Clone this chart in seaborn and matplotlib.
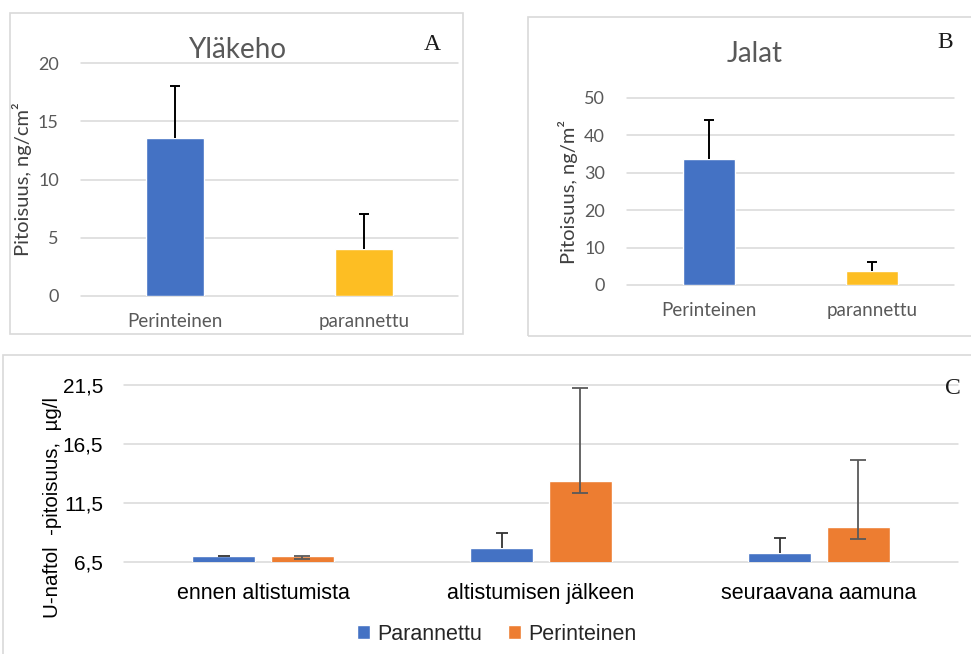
import matplotlib
matplotlib.use("Agg")
import matplotlib.pyplot as plt
from matplotlib.patches import Rectangle
import seaborn as sns
import pandas as pd

# ---- data -------------------------------------------------------------
groups_ab = ["Perinteinen", "parannettu"]

ylakeho_mean = [13.6, 4.0]
ylakeho_err_up = [4.4, 3.0]

jalat_mean = [33.7, 3.8]
jalat_err_up = [10.3, 2.3]

times = ["ennen altistumista", "altistumisen jälkeen", "seuraavana aamuna"]
series = ["Parannettu", "Perinteinen"]
parannettu_mean = [7.0, 7.7, 7.3]
parannettu_err_up = [0.05, 1.3, 1.2]
perinteinen_mean = [7.0, 13.4, 9.5]
perinteinen_err_low = [0.25, 1.05, 1.05]
perinteinen_err_up = [0.05, 7.85, 5.65]

ticks_a = [0, 5, 10, 15, 20]
ticks_b = [0, 10, 20, 30, 40, 50]
ticks_c = [6.5, 11.5, 16.5, 21.5]
ticklabels_c = ["6,5", "11,5", "16,5", "21,5"]

# ---- style ------------------------------------------------------------
sns.set_theme(style="white")
BLUE = "#4472C4"
ORANGE = "#ED7D31"
GOLD = "#FDBE23"
GRID = "#D9D9D9"
GREY_TXT = "#595959"
SANS_AB = ["Lato", "DejaVu Sans"]
SANS_C = ["Liberation Sans", "DejaVu Sans"]
SERIF = ["Liberation Serif", "DejaVu Serif"]

W, H = 971, 654
fig = plt.figure(figsize=(W / 100, H / 100), dpi=100)
fig.patch.set_facecolor("white")


def fx(x):
    return x / W


def fy(y):
    return 1 - y / H


def axes_px(left, top, right, bottom):
    ax = fig.add_axes([fx(left), fy(bottom), (right - left) / W, (bottom - top) / H])
    ax.width_px = right - left
    return ax


def frame_px(left, top, right, bottom):
    fig.add_artist(Rectangle((fx(left), fy(bottom)), (right - left) / W, (bottom - top) / H,
                             transform=fig.transFigure, fill=False,
                             edgecolor=GRID, linewidth=1.2, zorder=0))


def grid_lines(ax, ticks):
    for v in ticks:
        ax.axhline(v, color=GRID, linewidth=1.1, zorder=0.5, clip_on=False)


def clean(ax):
    for s in ax.spines.values():
        s.set_visible(False)
    ax.tick_params(length=0)
    ax.set_facecolor("none")


def upper_bars(ax, xs, means, ups, ncat, color, lw, cap_px):
    """Error bars drawn upward only, with a cap at the upper end."""
    hw = cap_px / (ax.width_px / ncat)
    tops = [m + u for m, u in zip(means, ups)]
    ax.vlines(xs, means, tops, color=color, linewidth=lw, zorder=3)
    ax.hlines(tops, [x - hw for x in xs], [x + hw for x in xs], color=color,
              linewidth=lw, zorder=3)


# ---- panel frames -----------------------------------------------------
frame_px(10, 13, 463, 334)
frame_px(528, 17, 985, 336)
frame_px(3, 355, 985, 665)


# ---- A / B : single-series bar charts --------------------------------
def small_panel(ax, means, err_up, ticks, ylabel, width, pad):
    df = pd.DataFrame({"ryhma": groups_ab, "arvo": means})
    sns.barplot(data=df, x="ryhma", y="arvo", hue="ryhma", palette=[BLUE, GOLD],
                legend=False, width=width, errorbar=None, saturation=1, ax=ax, zorder=2)
    xs = [p.get_x() + p.get_width() / 2 for c in ax.containers for p in c]
    upper_bars(ax, xs, means, err_up, len(means), "black", 1.4, 5)
    ax.set_xlim(-0.5, len(means) - 0.5)
    ax.set_ylim(ticks[0], ticks[-1])
    ax.set_yticks(ticks)
    grid_lines(ax, ticks)
    clean(ax)
    ax.set_xlabel("")
    ax.set_ylabel(ylabel, fontsize=14.5, color="#404040", family=SANS_AB, labelpad=4)
    ax.tick_params(axis="y", labelsize=13, labelcolor=GREY_TXT, pad=pad)
    ax.tick_params(axis="x", labelsize=13.5, labelcolor=GREY_TXT, pad=12)
    for t in ax.get_xticklabels() + ax.get_yticklabels():
        t.set_family(SANS_AB)


ax_a = axes_px(81, 63, 458, 296)
small_panel(ax_a, ylakeho_mean, ylakeho_err_up, ticks_a, "Pitoisuus, ng/cm²", 0.31, 16)
fig.text(fx(237), fy(50), "Yläkeho", ha="center", va="center", fontsize=20,
         color=GREY_TXT, family=SANS_AB)
fig.text(fx(432), fy(45), "A", ha="center", va="center", fontsize=17,
         color="#1a1a1a", family=SERIF)

ax_b = axes_px(627, 98, 954, 285)
small_panel(ax_b, jalat_mean, jalat_err_up, ticks_b, "Pitoisuus, ng/m²", 0.32, 16)
fig.text(fx(755), fy(54), "Jalat", ha="center", va="center", fontsize=20,
         color=GREY_TXT, family=SANS_AB)
fig.text(fx(945), fy(42), "B", ha="center", va="center", fontsize=17,
         color="#1a1a1a", family=SERIF)

# ---- C : grouped bars --------------------------------------------------
ax_c = axes_px(124, 385, 958, 562)
df_c = pd.DataFrame({
    "aika": times * 2,
    "sarja": [series[0]] * 3 + [series[1]] * 3,
    "arvo": parannettu_mean + perinteinen_mean,
})
sns.barplot(data=df_c, x="aika", y="arvo", hue="sarja", hue_order=series,
            palette=[BLUE, ORANGE], width=0.568, gap=0.2, errorbar=None,
            saturation=1, ax=ax_c, zorder=2)
cont_par, cont_per = ax_c.containers[0], ax_c.containers[1]
x_par = [p.get_x() + p.get_width() / 2 for p in cont_par]
x_per = [p.get_x() + p.get_width() / 2 for p in cont_per]
upper_bars(ax_c, x_par, parannettu_mean, parannettu_err_up, 3, "#333333", 1.3, 6)
ax_c.errorbar(x_per, perinteinen_mean, yerr=[perinteinen_err_low, perinteinen_err_up],
              fmt="none", ecolor="#595959", elinewidth=1.3, capsize=6, capthick=1.3,
              zorder=3)
ax_c.set_xlim(-0.5, 2.5)
ax_c.set_ylim(ticks_c[0], ticks_c[-1])
ax_c.set_yticks(ticks_c)
ax_c.set_yticklabels(ticklabels_c)
grid_lines(ax_c, ticks_c)
clean(ax_c)
ax_c.set_xlabel("")
ax_c.set_ylabel("U-naftol  -pitoisuus,  µg/l", fontsize=14.8, color="black", family=SANS_C)
ax_c.yaxis.set_label_coords(-0.074, 0.31)
ax_c.tick_params(axis="y", labelsize=15, labelcolor="black", pad=15)
ax_c.tick_params(axis="x", labelsize=15.5, labelcolor="black", pad=15)
for t in ax_c.get_xticklabels() + ax_c.get_yticklabels():
    t.set_family(SANS_C)

leg = ax_c.legend(loc="center", bbox_to_anchor=(fx(497), fy(634)),
                  bbox_transform=fig.transFigure, ncol=2, frameon=False,
                  prop={"family": SANS_C, "size": 15.5},
                  handlelength=0.6, handleheight=0.6, handletextpad=0.35,
                  columnspacing=1.2, borderaxespad=0)
fig.text(fx(953), fy(388), "C", ha="center", va="center", fontsize=17,
         color="#1a1a1a", family=SERIF)

fig.savefig("out.png", dpi=100, facecolor="white")
